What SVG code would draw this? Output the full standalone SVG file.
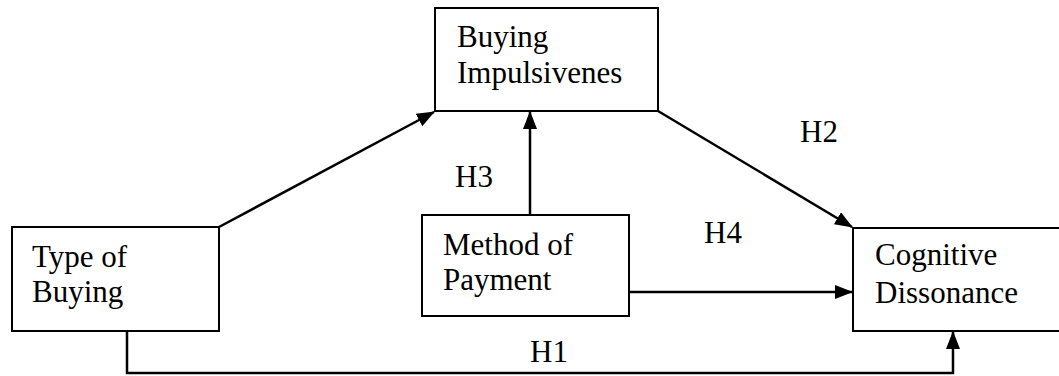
<svg xmlns="http://www.w3.org/2000/svg" width="1059" height="376" viewBox="0 0 1059 376">
<style>
.box{fill:#fff;stroke:#000;stroke-width:2}
.t{font-family:"Liberation Serif",serif;font-size:31px;fill:#000}
.c{fill:none;stroke:#000;stroke-width:2.5}
</style>
<defs>
<marker id="ah" markerWidth="18" markerHeight="14" refX="17" refY="7" orient="auto" markerUnits="userSpaceOnUse">
<path d="M0,0 L18,7 L0,14 Z" fill="#000"/>
</marker>
</defs>
<rect width="1059" height="376" fill="#fff"/>
<g id="connectors">
<line class="c" x1="219" y1="227" x2="434" y2="112" marker-end="url(#ah)"/>
<line class="c" x1="658" y1="111" x2="852" y2="227" marker-end="url(#ah)"/>
<line class="c" x1="530" y1="215" x2="530" y2="112" marker-end="url(#ah)"/>
<line class="c" x1="629" y1="292" x2="852" y2="292" marker-end="url(#ah)"/>
<polyline class="c" points="127,331 127,373 953,373 953,332" marker-end="url(#ah)"/>
</g>
<g id="buying-impulsivenes">
<rect class="box" x="435" y="8" width="223" height="103"/>
<text class="t" x="457" y="47">Buying</text>
<text class="t" x="457" y="83">Impulsivenes</text>
</g>
<g id="type-of-buying">
<rect class="box" x="12" y="227" width="207" height="104"/>
<text class="t" x="32" y="267">Type of</text>
<text class="t" x="32" y="302">Buying</text>
</g>
<g id="method-of-payment">
<rect class="box" x="422" y="215" width="207" height="101"/>
<text class="t" x="443" y="255">Method of</text>
<text class="t" x="443" y="290">Payment</text>
</g>
<g id="cognitive-dissonance">
<rect class="box" x="853" y="228" width="215" height="103"/>
<text class="t" x="875" y="265">Cognitive</text>
<text class="t" x="875" y="303">Dissonance</text>
</g>
<g id="labels">
<text class="t" x="800" y="142">H2</text>
<text class="t" x="455" y="187">H3</text>
<text class="t" x="704" y="243">H4</text>
<text class="t" x="530" y="362">H1</text>
</g>
</svg>
